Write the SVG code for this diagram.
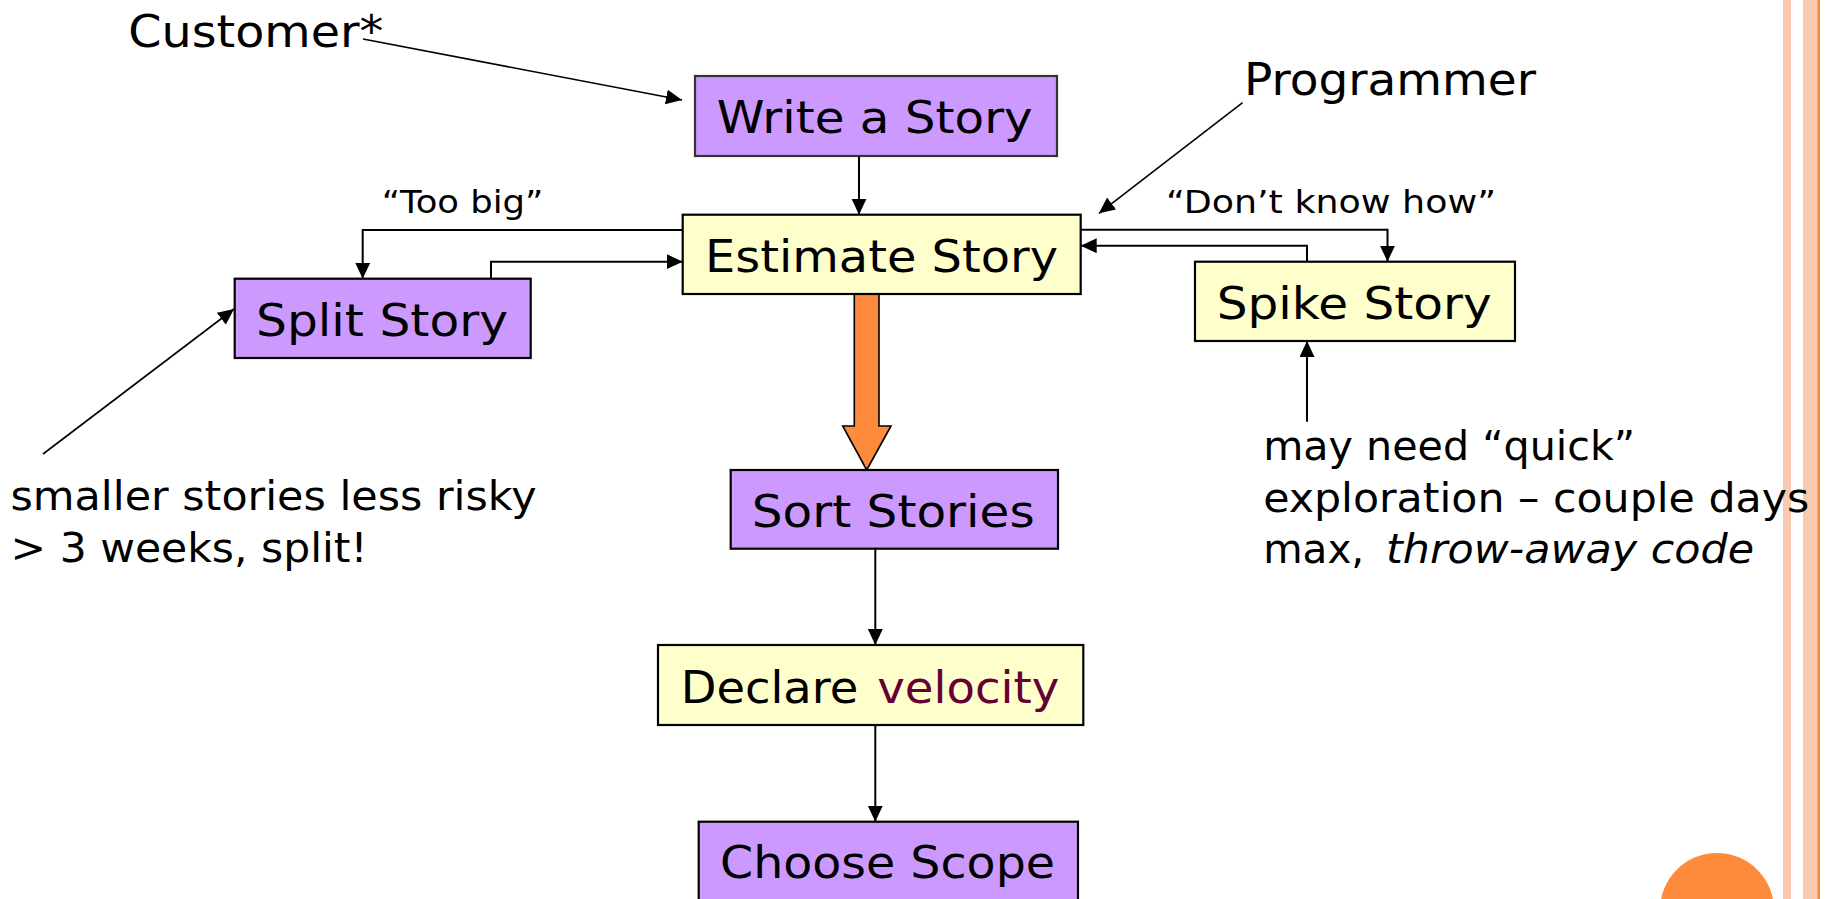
<svg xmlns="http://www.w3.org/2000/svg" width="1827" height="899" viewBox="0 0 1827 899">
<style>
text{font-family:"DejaVu Sans",Verdana,sans-serif;fill:#000}
.big{font-size:44px}
.note{font-size:40px}
.lbl{font-size:32px}
.purple{fill:#CC99FF;stroke:#000;stroke-width:2.2}
.yellow{fill:#FFFFCC;stroke:#000;stroke-width:2.2}
.con{fill:none;stroke:#000;stroke-width:2}
.thin{fill:none;stroke:#000;stroke-width:1.6}
</style>
<defs>
<marker id="ah" markerUnits="userSpaceOnUse" markerWidth="17" markerHeight="16" refX="16" refY="7.5" orient="auto">
<path d="M0,0 L16,7.5 L0,15 Z" fill="#000"/>
</marker>
</defs>
<rect width="1827" height="899" fill="#fff"/>
<g id="decor">
<rect x="1783" y="0" width="8" height="899" fill="#FBC8B0"/>
<rect x="1803" y="0" width="15" height="899" fill="#FBC8B0"/>
<rect x="1817.5" y="0" width="2.5" height="899" fill="#F58A3C"/>
<circle cx="1717" cy="910" r="57" fill="#FD8B3B"/>
</g>
<g id="connectors">
<line class="thin" x1="363" y1="39" x2="682" y2="100" marker-end="url(#ah)"/>
<line class="thin" x1="1242.6" y1="102.7" x2="1099" y2="213.3" marker-end="url(#ah)"/>
<line class="thin" x1="43" y1="454" x2="234" y2="309" marker-end="url(#ah)"/>
<line class="con" x1="859" y1="156" x2="859" y2="214.7" marker-end="url(#ah)"/>
<polyline class="con" points="682.7,230 362.7,230 362.7,278.7" marker-end="url(#ah)"/>
<polyline class="con" points="491,278.7 491,261.7 682.7,261.7" marker-end="url(#ah)"/>
<polyline class="con" points="1080.7,229.7 1387.5,229.7 1387.5,261.7" marker-end="url(#ah)"/>
<polyline class="con" points="1307,261.7 1307,245.7 1080.7,245.7" marker-end="url(#ah)"/>
<line class="con" x1="1307" y1="421.7" x2="1307" y2="341" marker-end="url(#ah)"/>
<polygon points="854.3,294 879,294 879,426 891,426 866.7,470 842.7,426 854.3,426" fill="#FD8B3B" stroke="#000" stroke-width="1.6"/>
<line class="con" x1="875.3" y1="548.7" x2="875.3" y2="645" marker-end="url(#ah)"/>
<line class="con" x1="875.3" y1="725" x2="875.3" y2="821.7" marker-end="url(#ah)"/>
</g>
<g id="customer"><text class="big" x="128.3" y="46.7" textLength="255" lengthAdjust="spacingAndGlyphs">Customer*</text></g>
<g id="programmer"><text class="big" x="1244" y="95" textLength="292" lengthAdjust="spacingAndGlyphs">Programmer</text></g>
<g id="write">
<rect class="purple" x="695" y="76" width="362" height="80" style="stroke:#333"/>
<text class="big" x="716.7" y="133.3" textLength="316" lengthAdjust="spacingAndGlyphs">Write a Story</text>
</g>
<g id="estimate">
<rect class="yellow" x="682.7" y="214.7" width="398" height="79.3"/>
<text class="big" x="705" y="271.7" textLength="353" lengthAdjust="spacingAndGlyphs">Estimate Story</text>
</g>
<g id="split">
<rect class="purple" x="234.7" y="278.7" width="296" height="79.3"/>
<text class="big" x="256" y="336" textLength="252" lengthAdjust="spacingAndGlyphs">Split Story</text>
</g>
<g id="spike">
<rect class="yellow" x="1195" y="261.7" width="320" height="79.3"/>
<text class="big" x="1216.7" y="318.5" textLength="275" lengthAdjust="spacingAndGlyphs">Spike Story</text>
</g>
<g id="sort">
<rect class="purple" x="730.7" y="470" width="327.3" height="78.7"/>
<text class="big" x="751.7" y="526.7" textLength="283" lengthAdjust="spacingAndGlyphs">Sort Stories</text>
</g>
<g id="declare">
<rect class="yellow" x="658" y="645" width="425.3" height="80"/>
<text class="big" x="680.7" y="702.7" textLength="177.6" lengthAdjust="spacingAndGlyphs">Declare</text>
<text class="big" x="877.3" y="702.7" textLength="182" lengthAdjust="spacingAndGlyphs" style="fill:#660033">velocity</text>
</g>
<g id="choose">
<rect class="purple" x="698.7" y="821.7" width="379.3" height="100"/>
<text class="big" x="720" y="878.3" textLength="335" lengthAdjust="spacingAndGlyphs">Choose Scope</text>
</g>
<g id="labels">
<text class="lbl" x="381.7" y="213.3" textLength="161.6" lengthAdjust="spacingAndGlyphs">“Too big”</text>
<text class="lbl" x="1166" y="213.3" textLength="330" lengthAdjust="spacingAndGlyphs">“Don’t know how”</text>
</g>
<g id="note-split">
<text class="note" x="10.5" y="510" textLength="526" lengthAdjust="spacingAndGlyphs">smaller stories less risky</text>
<text class="note" x="10.5" y="561.7" textLength="357" lengthAdjust="spacingAndGlyphs">&gt; 3 weeks, split!</text>
</g>
<g id="note-spike">
<text class="note" x="1263.2" y="460" textLength="372" lengthAdjust="spacingAndGlyphs">may need “quick”</text>
<text class="note" x="1263.2" y="511.7" textLength="546" lengthAdjust="spacingAndGlyphs">exploration – couple days</text>
<text class="note" x="1263.2" y="562.7" textLength="101" lengthAdjust="spacingAndGlyphs">max,</text>
<text class="note" x="1386" y="562.7" textLength="368" lengthAdjust="spacingAndGlyphs" font-style="italic">throw-away code</text>
</g>
</svg>
